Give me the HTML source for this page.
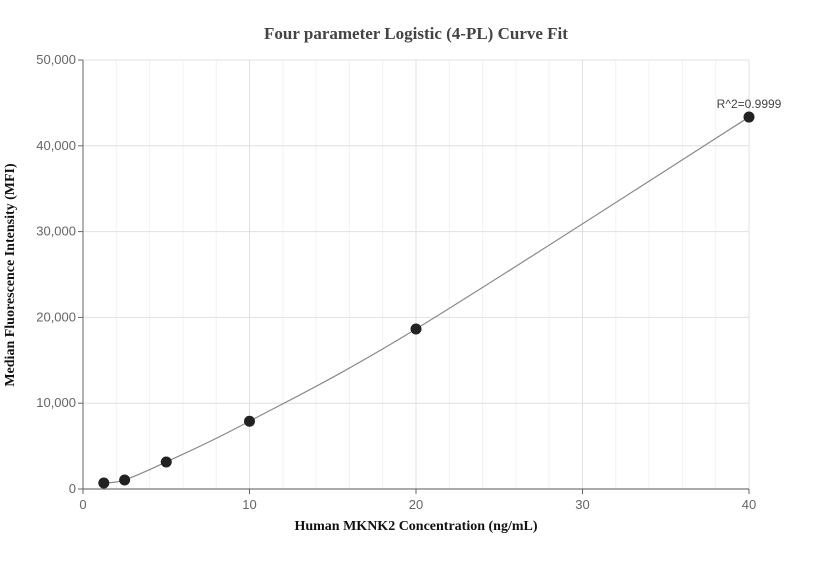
<!DOCTYPE html>
<html><head><meta charset="utf-8"><style>
body{margin:0;background:#fff;}
svg text{font-family:"Liberation Sans",sans-serif;}
</style></head><body>
<svg id="chart" width="832" height="560" xmlns="http://www.w3.org/2000/svg">
<text x="416" y="39" text-anchor="middle" font-family="Liberation Serif" font-weight="bold" font-size="17" fill="#444" style="font-family:'Liberation Serif',serif">Four parameter Logistic (4-PL) Curve Fit</text>
<g id="grid"></g>
<g id="axes"></g>
<path id="curve" fill="none" stroke="#888" stroke-width="1.2"/>
<g id="pts"></g>
<text x="749" y="108" text-anchor="middle" font-size="12" fill="#444">R^2=0.9999</text>
<text x="416" y="530" text-anchor="middle" font-weight="bold" font-size="14" fill="#111" style="font-family:'Liberation Serif',serif">Human MKNK2 Concentration (ng/mL)</text>
<text transform="translate(14,275) rotate(-90)" text-anchor="middle" font-weight="bold" font-size="14" fill="#111" style="font-family:'Liberation Serif',serif">Median Fluorescence Intensity (MFI)</text>
</svg>
<script>
const xValues=[1.25,2.5,5,10,20,40];
const yValues=[700,1050,3150,7900,18650,43350];
const xTicks=[0,10,20,30,40];
const yTicks=[0,10000,20000,30000,40000,50000];
const X0=83,X1=749,Y0=489,Y1=60;
const sx=v=>X0+(v-0)/40*(X1-X0);
const sy=v=>Y0-(v/50000)*(Y0-Y1);
const NS="http://www.w3.org/2000/svg";
function mk(t,a,p){const e=document.createElementNS(NS,t);for(const k in a)e.setAttribute(k,a[k]);p.appendChild(e);return e;}
const grid=document.getElementById('grid'),axes=document.getElementById('axes');
for(let v=2;v<40;v+=2){if(v%10===0)continue;const l=mk('line',{x1:sx(v),x2:sx(v),y1:Y1,y2:Y0,stroke:'#f2f2f2'},grid);
}
xTicks.forEach(v=>{if(v>0){const l=mk('line',{x1:sx(v),x2:sx(v),y1:Y1,y2:Y0,stroke:'#e0e0e0'},grid);
}
const t=mk('text',{x:sx(v),y:Y0+20,'text-anchor':'middle','font-size':'13',fill:'#666'},axes);t.textContent=v;

const tk=mk('line',{x1:sx(v),x2:sx(v),y1:Y0,y2:Y0+5,stroke:'#666'},axes);
});
yTicks.forEach(v=>{if(v>0){const l=mk('line',{x1:X0,x2:X1,y1:sy(v),y2:sy(v),stroke:'#e0e0e0'},grid);
}
const t=mk('text',{x:X0-7,y:sy(v)+4,'text-anchor':'end','font-size':'13',fill:'#666'},axes);t.textContent=v.toLocaleString('en-US');

const tk=mk('line',{x1:X0-5,x2:X0,y1:sy(v),y2:sy(v),stroke:'#666'},axes);
});
let a=mk('line',{x1:X0,x2:X0,y1:Y1,y2:Y0,stroke:'#666'},axes);
a=mk('line',{x1:X0,x2:X1,y1:Y0,y2:Y0,stroke:'#555'},axes);
const P=xValues.map((x,i)=>[sx(x),sy(yValues[i])]);
let d=`M${P[0][0]},${P[0][1]}`;
for(let i=0;i<P.length-1;i++){const p0=P[i-1]||P[i],p1=P[i],p2=P[i+1],p3=P[i+2]||p2;
d+=` C${p1[0]+(p2[0]-p0[0])/6},${p1[1]+(p2[1]-p0[1])/6} ${p2[0]-(p3[0]-p1[0])/6},${p2[1]-(p3[1]-p1[1])/6} ${p2[0]},${p2[1]}`;}
document.getElementById('curve').setAttribute('d',d);
const pts=document.getElementById('pts');
P.forEach(p=>{const c=mk('circle',{cx:p[0],cy:p[1],r:5.5,fill:'#222'},pts);
});
</script>
</body></html>
